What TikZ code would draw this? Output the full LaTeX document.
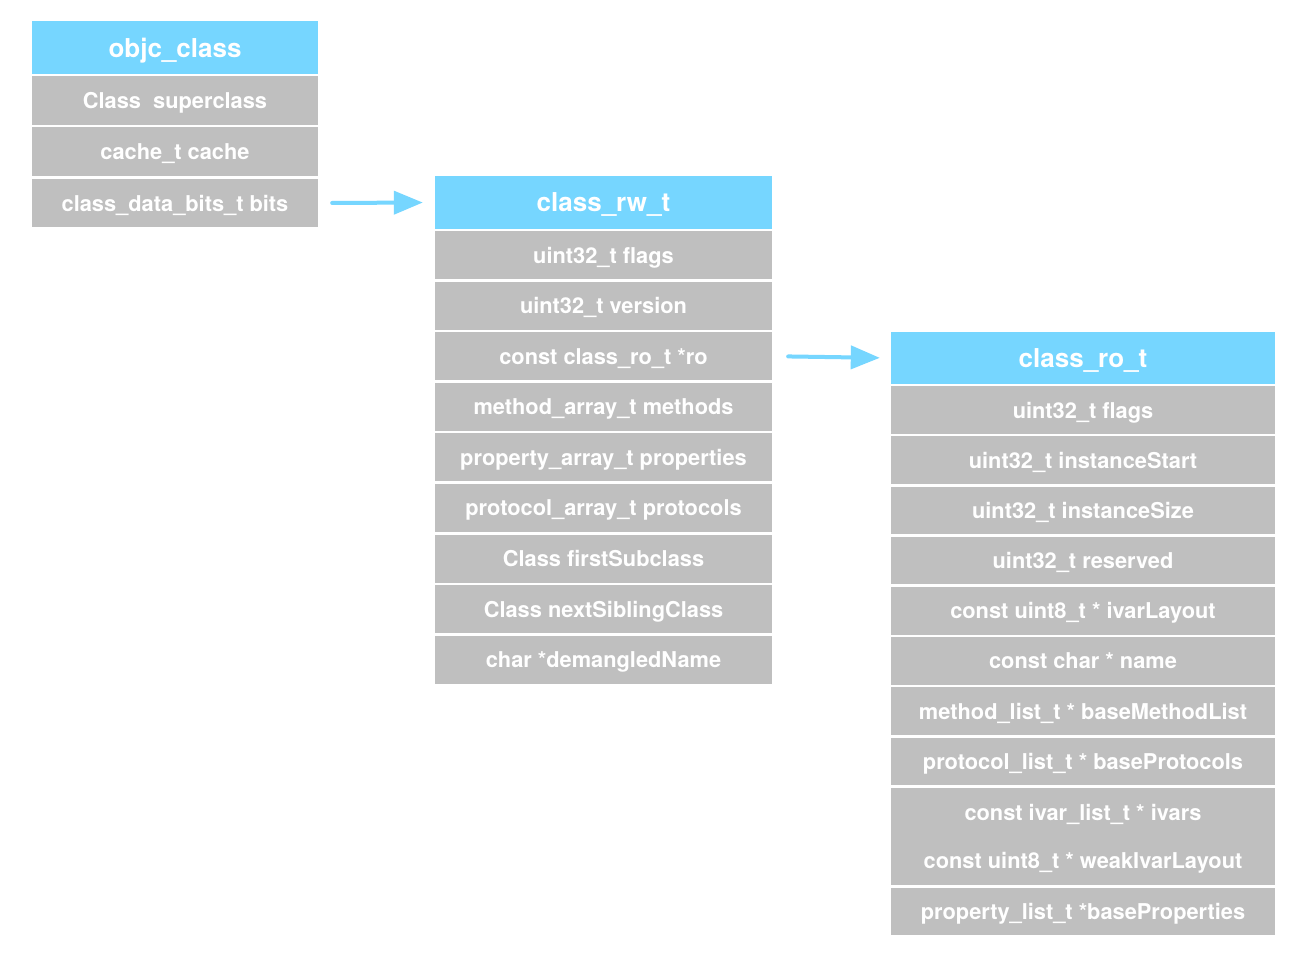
\documentclass[tikz,border=0pt]{standalone}
\usepackage{fontspec}
\setmainfont{TeX Gyre Heros}
\usetikzlibrary{arrows.meta}
\definecolor{hdrblue}{HTML}{76D6FF}
\definecolor{rowgray}{HTML}{BFBFBF}
\tikzset{
  cell/.style={rectangle, inner sep=0pt, text=white, text depth=0pt, font=\bfseries\fontsize{21.8}{24}\selectfont, anchor=center},
  hdr/.style={cell, fill=hdrblue, font=\bfseries\fontsize{26}{30}\selectfont},
  row/.style={cell, fill=rowgray},
  arr/.style={draw=hdrblue, line width=4pt, line cap=round, -{Triangle[length=29pt,width=23pt]}},
}
\begin{document}
\begin{tikzpicture}[x=1pt,y=-1pt]
\useasboundingbox[fill=white] (0,0) rectangle (1312,966);
% objc_class
\begin{scope}[every node/.append style={minimum width=286pt}]
\node[hdr, minimum height=53pt] (oc) at (175,47.5) {objc\_class};
\node[row, minimum height=49pt] (oc1) at (175,100.5) {Class\ \ superclass};
\node[row, minimum height=49pt] (oc2) at (175,151.5) {cache\_t cache};
\node[row, minimum height=48pt] (oc3) at (175,203) {class\_data\_bits\_t bits};
\end{scope}
% class_rw_t
\begin{scope}[every node/.append style={minimum width=337pt}]
\node[hdr, minimum height=53pt] (rw) at (603.5,202.5) {class\_rw\_t};
\foreach \t [count=\i from 0] in {uint32\_t flags, uint32\_t version, const class\_ro\_t *ro, method\_array\_t methods, property\_array\_t properties, protocol\_array\_t protocols, Class firstSubclass, Class nextSiblingClass, char *demangledName}{
  \node[row, minimum height=48pt] (rw\i) at (603.5,{255+50.6*\i}) {\t};
}
\end{scope}
% class_ro_t
\begin{scope}[every node/.append style={minimum width=384pt}]
\node[hdr, minimum height=52pt] (ro) at (1083,358) {class\_ro\_t};
\foreach \t [count=\i from 0] in {uint32\_t flags, uint32\_t instanceStart, uint32\_t instanceSize, uint32\_t reserved, const uint8\_t * ivarLayout, const char * name, method\_list\_t * baseMethodList, protocol\_list\_t * baseProtocols}{
  \node[row, minimum height=47.5pt] (ro\i) at (1083,{410+50.2*\i}) {\t};
}
\node[row, minimum height=97pt, align=center, font=\bfseries\fontsize{21.8}{48}\selectfont] (ro8) at (1083,836.5) {const ivar\_list\_t * ivars\\const uint8\_t * weakIvarLayout};
\node[row, minimum height=47.5pt] (ro9) at (1083,911.5) {property\_list\_t *baseProperties};
\end{scope}
% arrows
\draw[arr, shorten <=14pt, shorten >=12pt] (oc3.east) -- (rw.west);
\draw[arr, shorten <=16pt, shorten >=11pt] (rw2.east) -- (ro.west);
\end{tikzpicture}
\end{document}
